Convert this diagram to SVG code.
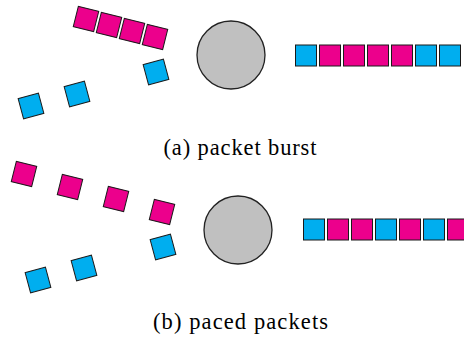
<svg xmlns="http://www.w3.org/2000/svg" width="464" height="341" viewBox="0 0 464 341">
<defs>
<style>
.b{fill:#00AEEF;stroke:#1a1a1a;stroke-width:1}
.m{fill:#EC008C;stroke:#1a1a1a;stroke-width:1}
.srv{fill:#C0C0C0;stroke:#222;stroke-width:1.3}
</style>
<rect id="pk" x="-10.5" y="-10.5" width="21" height="21"/>
</defs>
<rect width="464" height="341" fill="#fff"/>
<g id="burst">
  <g id="top-incoming-magenta">
    <use href="#pk" class="m" transform="translate(86,19) rotate(14)"/>
    <use href="#pk" class="m" transform="translate(109,25) rotate(14)"/>
    <use href="#pk" class="m" transform="translate(132,31) rotate(14)"/>
    <use href="#pk" class="m" transform="translate(155,37) rotate(14)"/>
  </g>
  <g id="top-incoming-blue">
    <use href="#pk" class="b" transform="translate(156,72) rotate(-15)"/>
    <use href="#pk" class="b" transform="translate(77,94) rotate(-15)"/>
    <use href="#pk" class="b" transform="translate(31,106) rotate(-15)"/>
  </g>
  <g id="top-server"><circle class="srv" cx="231" cy="55" r="34"/></g>
  <g id="top-queue">
    <rect class="b" x="295.5" y="45" width="21" height="21"/>
    <rect class="m" x="319.5" y="45" width="21" height="21"/>
    <rect class="m" x="343.5" y="45" width="21" height="21"/>
    <rect class="m" x="367.5" y="45" width="21" height="21"/>
    <rect class="m" x="391.5" y="45" width="21" height="21"/>
    <rect class="b" x="415.5" y="45" width="21" height="21"/>
    <rect class="b" x="439.5" y="45" width="21" height="21"/>
  </g>
  <text id="cap-a" x="240" y="155" font-family="Times New Roman" font-size="22.5" text-anchor="middle" textLength="153" lengthAdjust="spacing" fill="#000">(a) packet burst</text>
</g>
<g id="paced">
  <g id="bot-incoming-magenta">
    <use href="#pk" class="m" transform="translate(24,174) rotate(14)"/>
    <use href="#pk" class="m" transform="translate(70,187) rotate(14)"/>
    <use href="#pk" class="m" transform="translate(116,199) rotate(14)"/>
    <use href="#pk" class="m" transform="translate(162,212) rotate(14)"/>
  </g>
  <g id="bot-incoming-blue">
    <use href="#pk" class="b" transform="translate(163,247) rotate(-15)"/>
    <use href="#pk" class="b" transform="translate(84,268) rotate(-15)"/>
    <use href="#pk" class="b" transform="translate(38,280) rotate(-15)"/>
  </g>
  <g id="bot-server"><circle class="srv" cx="238" cy="230" r="34"/></g>
  <g id="bot-queue">
    <rect class="b" x="303.5" y="219" width="21" height="21"/>
    <rect class="m" x="327.5" y="219" width="21" height="21"/>
    <rect class="m" x="351.5" y="219" width="21" height="21"/>
    <rect class="b" x="375.5" y="219" width="21" height="21"/>
    <rect class="m" x="399.5" y="219" width="21" height="21"/>
    <rect class="b" x="423.5" y="219" width="21" height="21"/>
    <rect class="m" x="447.5" y="219" width="21" height="21"/>
  </g>
  <text id="cap-b" x="240.5" y="329" font-family="Times New Roman" font-size="22.5" text-anchor="middle" textLength="175" lengthAdjust="spacing" fill="#000">(b) paced packets</text>
</g>
<g id="connectors"/>
</svg>
